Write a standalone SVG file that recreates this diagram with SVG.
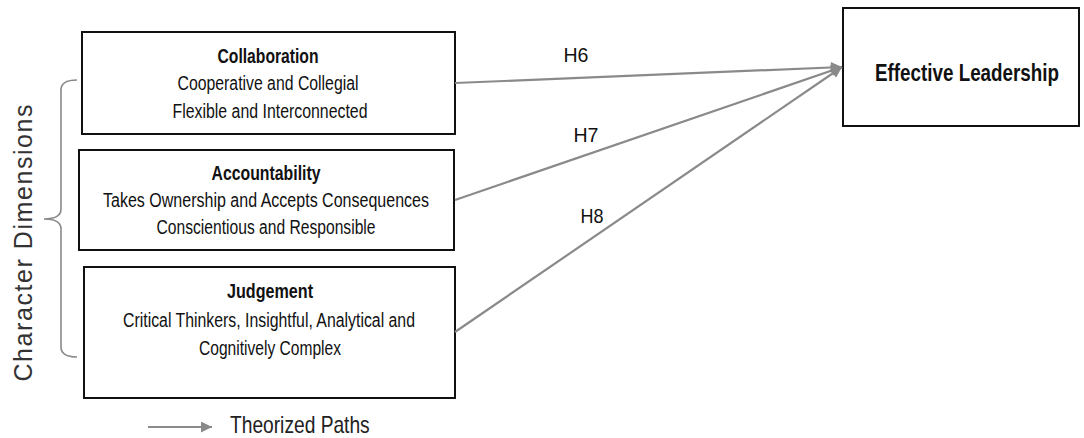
<svg xmlns="http://www.w3.org/2000/svg" width="1084" height="438" viewBox="0 0 1084 438">
<style>
.box{fill:#fff;stroke:#111;stroke-width:2}
.t{font-family:"Liberation Sans",Arial,sans-serif;font-size:19.5px;fill:#111;text-anchor:middle}
.b{font-weight:bold}
.conn{stroke:#8a8a8a;stroke-width:2.2;fill:none}
.lbl{font-family:"Liberation Sans",Arial,sans-serif;font-size:21px;fill:#111;text-anchor:middle}
</style>
<defs>
<marker id="ah" viewBox="0 0 10 10" refX="10" refY="5" markerWidth="6" markerHeight="5" markerUnits="strokeWidth" orient="auto">
<path d="M0,0 L10,5 L0,10 z" fill="#8a8a8a"/>
</marker>
</defs>
<rect width="1084" height="438" fill="#fff"/>
<g id="brace">
<path d="M77,80 Q61,80 61,90 L61,209 Q61,219 44,219 Q61,219 61,229 L61,347 Q61,357 77,357" fill="none" stroke="#8a8a8a" stroke-width="1.6"/>
<text x="32" y="243" transform="rotate(-90 32 243)" text-anchor="middle" font-family="Liberation Sans, Arial, sans-serif" font-size="25" fill="#333" textLength="277" lengthAdjust="spacing">Character Dimensions</text>
</g>
<g id="collaboration">
<rect class="box" x="82" y="32" width="373" height="102"/>
<text class="t b" x="268" y="63" textLength="101" lengthAdjust="spacingAndGlyphs">Collaboration</text>
<text class="t" x="268" y="90" textLength="181" lengthAdjust="spacingAndGlyphs">Cooperative and Collegial</text>
<text class="t" x="270" y="118" textLength="195" lengthAdjust="spacingAndGlyphs">Flexible and Interconnected</text>
</g>
<g id="accountability">
<rect class="box" x="79" y="150" width="375" height="100"/>
<text class="t b" x="266" y="180" textLength="109" lengthAdjust="spacingAndGlyphs">Accountability</text>
<text class="t" x="266" y="207" textLength="326" lengthAdjust="spacingAndGlyphs">Takes Ownership and Accepts Consequences</text>
<text class="t" x="266" y="234" textLength="219" lengthAdjust="spacingAndGlyphs">Conscientious and Responsible</text>
</g>
<g id="judgement">
<rect class="box" x="84" y="267" width="371" height="131"/>
<text class="t b" x="270" y="298" textLength="86" lengthAdjust="spacingAndGlyphs">Judgement</text>
<text class="t" x="269" y="327" textLength="292" lengthAdjust="spacingAndGlyphs">Critical Thinkers, Insightful, Analytical and</text>
<text class="t" x="270" y="355" textLength="142" lengthAdjust="spacingAndGlyphs">Cognitively Complex</text>
</g>
<g id="effective-leadership">
<rect class="box" x="843" y="8" width="236" height="118"/>
<text class="t b" transform="translate(967 81) scale(0.818 1)" x="0" y="0" style="font-size:23px">Effective Leadership</text>
</g>
<g id="connectors">
<line class="conn" x1="455" y1="83" x2="842" y2="67" marker-end="url(#ah)"/>
<line class="conn" x1="455" y1="200" x2="842" y2="67" marker-end="url(#ah)"/>
<line class="conn" x1="455" y1="332" x2="842" y2="67" marker-end="url(#ah)"/>
<text class="lbl" x="576" y="62" textLength="25" lengthAdjust="spacingAndGlyphs">H6</text>
<text class="lbl" x="586" y="142" textLength="25" lengthAdjust="spacingAndGlyphs">H7</text>
<text class="lbl" x="592" y="223" textLength="23" lengthAdjust="spacingAndGlyphs">H8</text>
</g>
<g id="legend">
<line class="conn" x1="148" y1="427" x2="212" y2="427" marker-end="url(#ah)"/>
<text transform="translate(230 433) scale(0.8 1)" x="0" y="0" font-family="Liberation Sans, Arial, sans-serif" font-size="24" fill="#222">Theorized Paths</text>
</g>
</svg>
